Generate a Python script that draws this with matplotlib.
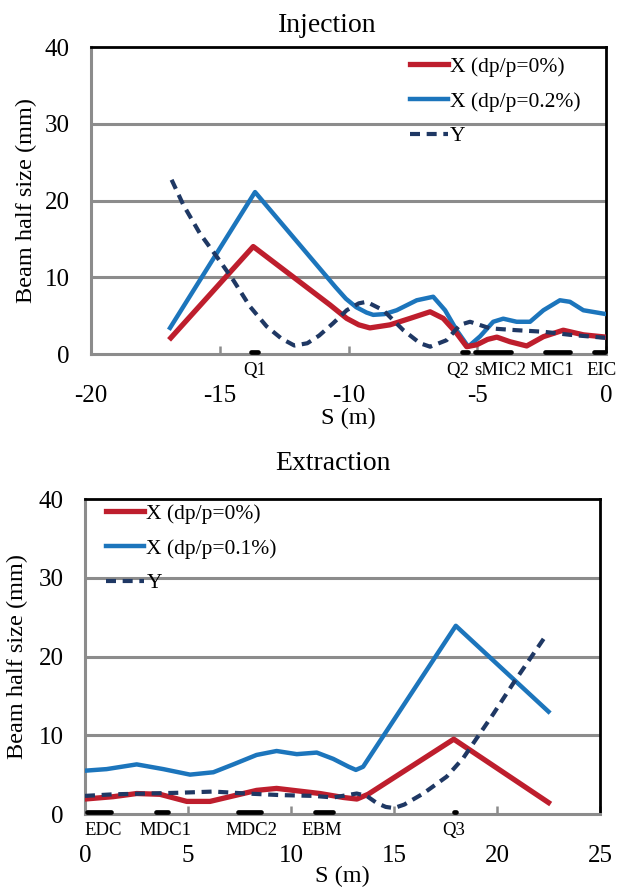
import matplotlib
matplotlib.use('Agg')
import matplotlib.pyplot as plt

plt.rcParams['font.family'] = ['Liberation Serif', 'DejaVu Serif']
plt.rcParams['axes.unicode_minus'] = False

# ---------------- Injection data ----------------
inj_red_s = [-16.9, -13.7, -10.72, -10.07, -9.6, -9.17, -8.39, -7.61, -6.83, -6.32, -5.8,
             -5.41, -5.02, -4.6, -4.24, -3.73, -3.08, -2.43, -1.66, -0.88, 0.0]
inj_red_v = [2.1, 14.0, 6.4, 4.64, 3.8, 3.4, 3.8, 4.64, 5.5, 4.64, 2.7,
             0.95, 1.2, 1.9, 2.2, 1.6, 1.05, 2.26, 3.1, 2.5, 2.2]

inj_blue_s = [-16.93, -13.63, -10.5, -10.1, -9.7, -9.3, -9.04, -8.6, -8.13, -7.35, -6.71,
              -6.25, -5.8, -5.35, -4.89, -4.38, -3.99, -3.47, -2.95, -2.43, -1.79, -1.4, -0.88, 0.0]
inj_blue_v = [3.4, 21.1, 8.7, 7.2, 6.1, 5.4, 5.1, 5.2, 5.7, 7.0, 7.46,
              5.7, 3.1, 0.95, 2.3, 4.2, 4.6, 4.2, 4.2, 5.7, 7.0, 6.8, 5.7, 5.2]

inj_y_s = [-16.87, -16.41, -15.77, -15.12, -14.47, -13.83, -13.18, -12.6, -12.1, -11.6, -11.14,
           -10.6, -10.07, -9.6, -9.3, -8.65, -7.87, -7.22, -6.83, -6.19, -5.67, -5.28, -4.5,
           -3.47, -2.43, -1.4, 0.0]
inj_y_v = [22.7, 19.4, 15.7, 12.7, 9.6, 6.2, 3.6, 2.0, 1.1, 1.4, 2.4,
           4.0, 5.7, 6.6, 6.8, 5.7, 3.1, 1.4, 0.95, 1.8, 3.8, 4.2, 3.34,
           3.1, 2.9, 2.5, 2.1]

inj_elem_names = ['Q1', 'Q2', 'sMIC2', 'MIC1', 'EIC']
inj_elem_start = [-13.8, -5.6, -5.1, -2.35, -0.45]
inj_elem_end = [-13.5, -5.35, -3.7, -1.4, -0.05]
inj_label_pos = [-13.65, -5.75, -4.09, -2.1, -0.18]

# ---------------- Extraction data ----------------
ext_red_s = [0.0, 1.37, 2.51, 3.64, 4.94, 6.07, 7.2, 8.33, 9.3, 10.44, 11.41, 12.54, 13.2,
             13.74, 17.9, 22.5]
ext_red_v = [1.9, 2.2, 2.6, 2.5, 1.6, 1.6, 2.3, 3.0, 3.25, 2.9, 2.6, 2.1, 1.9,
             2.5, 9.5, 1.45]

ext_blue_s = [0.0, 1.05, 2.51, 3.8, 5.1, 6.23, 7.2, 8.33, 9.3, 10.28, 11.25, 12.05, 12.8,
              13.15, 13.5, 18.0, 22.5]
ext_blue_v = [5.5, 5.7, 6.3, 5.7, 5.0, 5.3, 6.3, 7.5, 8.0, 7.6, 7.8, 7.0, 6.0,
              5.6, 6.0, 23.9, 13.0]

ext_y_s = [0.0, 1.37, 3.0, 4.61, 6.23, 7.85, 9.47, 11.08, 12.05, 13.19, 13.67, 14.16, 14.6,
           15.0, 15.5, 16.42, 17.56, 18.36, 19.01, 19.82, 20.79, 22.41]
ext_y_v = [2.3, 2.5, 2.6, 2.7, 2.85, 2.6, 2.4, 2.3, 2.1, 2.6, 2.3, 1.4, 0.9,
           0.75, 1.2, 2.6, 4.75, 7.1, 9.6, 12.7, 16.6, 22.8]

ext_elem_names = ['EDC', 'MDC1', 'MDC2', 'EBM', 'Q3']
ext_elem_start = [0.1, 3.45, 7.45, 11.15, 17.9]
ext_elem_end = [1.25, 4.05, 8.55, 12.05, 18.0]
ext_label_pos = [0.86, 3.9, 8.1, 11.5, 17.9]

y_ticks = [0, 10, 20, 30, 40]
inj_xticks = [-20, -15, -10, -5, 0]
ext_xticks = [0, 5, 10, 15, 20, 25]

RED = '#BE1E2D'
BLUE = '#1C75BC'
NAVY = '#1F3864'
GRID = '#8C8C8C'

fig = plt.figure(figsize=(6.17, 8.88), dpi=100)
W, H = 617.0, 888.0
ax1 = fig.add_axes([91 / W, 1 - 354 / H, (606 - 91) / W, (354 - 47) / H])
ax2 = fig.add_axes([85 / W, 1 - 814 / H, (600 - 85) / W, (814 - 499) / H])


def style(ax, xlim, xticks):
    ax.set_xlim(*xlim)
    ax.set_ylim(0, 40)
    ax.set_yticks(y_ticks)
    ax.set_xticks(xticks)
    for yv in y_ticks[1:-1]:
        ax.axhline(yv, color=GRID, lw=2.2, zorder=1)
    for side in ['left', 'bottom']:
        ax.spines[side].set_color(GRID)
        ax.spines[side].set_linewidth(2.2)
    for side in ['top', 'right']:
        ax.spines[side].set_color('black')
        ax.spines[side].set_linewidth(2.0)
    ax.tick_params(axis='y', length=0, pad=15.5, labelsize=18)
    ax.tick_params(axis='x', direction='in', length=6, width=1.8, color=GRID,
                   pad=22, labelsize=18)
    ax.set_ylabel('Beam half size (mm)', fontsize=17.5)
    ax.set_xlabel('S (m)', fontsize=17.5)


def draw(ax, rs, rv, bs, bv, ys, yv, lab_blue):
    h1, = ax.plot(rs, rv, color=RED, lw=3.8, zorder=4, solid_joinstyle='round')
    h2, = ax.plot(bs, bv, color=BLUE, lw=3.2, zorder=3, solid_joinstyle='round')
    h3, = ax.plot(ys, yv, color=NAVY, lw=3.0, zorder=5, dashes=(2.4, 1.6))
    return [h1, h2, h3], ['X (dp/p=0%)', lab_blue, 'Y']


def elements(ax, names, st, en, pos):
    for a, b in zip(st, en):
        ax.plot([a, b], [0.3, 0.3], color='black', lw=3.4, solid_capstyle='round',
                clip_on=False, zorder=6)
    for n, p in zip(names, pos):
        ax.annotate(n, xy=(p, 0), xycoords=ax.get_xaxis_transform(),
                    xytext=(0, -15.1), textcoords='offset points',
                    ha='center', va='baseline', fontsize=13.5, annotation_clip=False)


style(ax1, (-20, 0), inj_xticks)
hs, ls = draw(ax1, inj_red_s, inj_red_v, inj_blue_s, inj_blue_v, inj_y_s, inj_y_v, 'X (dp/p=0.2%)')
elements(ax1, inj_elem_names, inj_elem_start, inj_elem_end, inj_label_pos)
ax1.legend(hs, ls, loc='upper left', bbox_to_anchor=(0.619, 0.968), frameon=False,
           fontsize=15.5, handlelength=1.77, handletextpad=0.1, labelspacing=0.68,
           borderaxespad=0, borderpad=0)
ax1.yaxis.set_label_coords(-0.105, 0.5)
ax1.xaxis.set_label_coords(0.5, -0.175)

style(ax2, (0, 25), ext_xticks)
hs, ls = draw(ax2, ext_red_s, ext_red_v, ext_blue_s, ext_blue_v, ext_y_s, ext_y_v, 'X (dp/p=0.1%)')
elements(ax2, ext_elem_names, ext_elem_start, ext_elem_end, ext_label_pos)
ax2.legend(hs, ls, loc='upper left', bbox_to_anchor=(0.041, 0.985), frameon=False,
           fontsize=15.5, handlelength=1.77, handletextpad=0.1, labelspacing=0.68,
           borderaxespad=0, borderpad=0)
ax2.yaxis.set_label_coords(-0.111, 0.5)
ax2.xaxis.set_label_coords(0.5, -0.165)

fig.text(327 / W, 1 - 32 / H, 'Injection', ha='center', va='baseline', fontsize=20)
fig.text(333 / W, 1 - 470 / H, 'Extraction', ha='center', va='baseline', fontsize=20)

fig.savefig('out.png', dpi=100)
